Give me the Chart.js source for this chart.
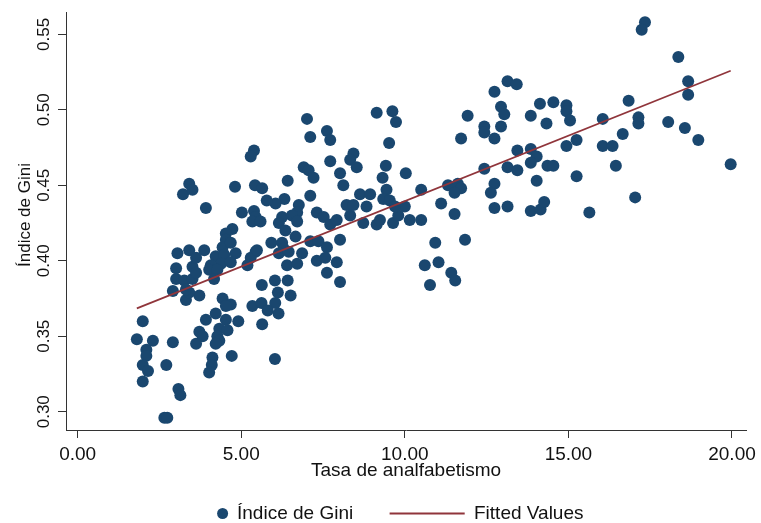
<!DOCTYPE html>
<html>
<head>
<meta charset="utf-8">
<script src="https://cdn.jsdelivr.net/npm/chart.js@4"></script>
<style>
  html, body { margin: 0; padding: 0; background: #fff; }
</style>
</head>
<body>
<canvas id="chart" width="761" height="523"></canvas>
<script>
// Tasa de analfabetismo (x) and Índice de Gini (y), one entry per unit
const tasa = [
  1.99, 1.81, 2.30, 2.91, 2.10, 2.10, 1.99, 2.15, 2.71, 1.99, 3.08, 3.14, 2.65, 2.74, 3.01, 3.01, 2.91,
  3.31, 3.72, 3.41, 4.43, 4.68, 4.53, 4.22, 3.92, 4.53, 4.91, 4.33, 4.58, 4.27, 3.72, 3.82, 3.62, 4.33, 4.22, 4.12, 4.10, 4.71, 5.34, 4.02,
  5.63, 6.03, 6.42, 6.12, 6.51, 5.62, 6.04, 5.81, 6.14, 5.64, 6.03, 8.02, 10.77,
  5.39, 5.29, 3.41, 3.22, 3.51, 4.81, 5.42, 3.92, 5.02, 5.39, 5.44, 5.34, 5.59, 4.73, 4.53, 4.53, 4.43, 4.68,
  3.41, 3.87, 3.05, 4.22, 4.48, 4.83, 4.38, 4.68, 4.07, 4.02, 4.27, 3.51, 3.62, 5.44, 5.29, 5.19, 3.26, 3.51,
  3.31, 3.62, 4.17, 5.48, 5.92, 6.25,
  7.01, 7.11, 7.62, 7.72, 9.14, 9.62, 9.73, 9.52, 8.43, 8.33, 8.53, 7.72, 6.91, 7.06, 7.21, 8.02, 9.42, 9.32,
  10.03, 6.42, 8.12, 5.64, 7.11, 6.32, 6.05, 5.78, 8.63, 8.94, 9.44, 9.34, 9.54, 10.50, 8.22, 8.43, 8.83,
  6.76, 6.71, 6.25, 6.55, 6.15, 6.35, 6.71, 7.31, 7.52, 7.72, 7.92, 8.33, 8.73, 9.14, 9.24, 9.64, 9.80,
  10.00, 9.70, 10.15, 10.50, 6.66, 6.30, 6.15, 6.45, 7.11, 7.36, 7.62, 8.02, 6.86, 7.31, 7.57, 7.92, 6.40,
  6.71, 7.62, 10.61,
  13.14, 13.42, 12.74, 12.94, 13.04, 14.13, 14.54, 14.94, 14.94, 15.05, 11.92, 12.43, 12.43, 12.94, 13.85,
  14.33, 11.72, 12.74, 13.44, 13.85, 14.03, 13.85, 14.94, 15.25, 13.14, 13.44, 12.43, 14.36, 14.54, 15.25,
  14.03, 11.32, 11.62, 11.72, 11.52, 12.74, 12.63, 11.11, 11.52, 12.74, 13.14, 13.85, 14.15, 14.26, 10.93,
  11.84, 11.03, 11.42, 11.54,
  17.34, 17.24, 18.36, 18.66, 18.66, 16.84, 16.05, 17.14, 17.14, 18.05, 18.56, 18.97, 16.66, 16.05, 16.35,
  16.45, 19.96, 17.04, 15.64
];
const gini = [
  0.360, 0.348, 0.347, 0.346, 0.341, 0.337, 0.331, 0.327, 0.331, 0.320, 0.315, 0.311, 0.296, 0.296, 0.395, 0.388, 0.380,
  0.374, 0.377, 0.379, 0.375, 0.371, 0.370, 0.365, 0.361, 0.361, 0.360, 0.355, 0.354, 0.350, 0.353, 0.350, 0.345, 0.347, 0.345, 0.336, 0.331, 0.337, 0.370, 0.326,
  0.384, 0.387, 0.387, 0.379, 0.377, 0.372, 0.372, 0.367, 0.365, 0.358, 0.335, 0.386, 0.384,
  0.473, 0.469, 0.451, 0.444, 0.447, 0.449, 0.450, 0.435, 0.432, 0.433, 0.429, 0.426, 0.426, 0.421, 0.418, 0.414, 0.409, 0.412,
  0.407, 0.407, 0.405, 0.403, 0.404, 0.405, 0.398, 0.399, 0.397, 0.394, 0.394, 0.396, 0.402, 0.406, 0.402, 0.397, 0.387, 0.388,
  0.381, 0.392, 0.388, 0.407, 0.412, 0.412,
  0.494, 0.482, 0.486, 0.480, 0.498, 0.499, 0.492, 0.478, 0.471, 0.467, 0.462, 0.466, 0.462, 0.460, 0.455, 0.458, 0.463, 0.455,
  0.458, 0.453, 0.450, 0.448, 0.443, 0.441, 0.438, 0.440, 0.444, 0.444, 0.447, 0.441, 0.440, 0.447, 0.437, 0.437, 0.436,
  0.437, 0.432, 0.429, 0.430, 0.425, 0.420, 0.426, 0.432, 0.429, 0.424, 0.427, 0.430, 0.425, 0.424, 0.427, 0.425, 0.430,
  0.436, 0.436, 0.427, 0.427, 0.416, 0.408, 0.405, 0.406, 0.413, 0.413, 0.409, 0.414, 0.405, 0.400, 0.402, 0.399, 0.397,
  0.398, 0.392, 0.397,
  0.519, 0.517, 0.512, 0.502, 0.497, 0.504, 0.505, 0.503, 0.499, 0.493, 0.496, 0.489, 0.485, 0.489, 0.496,
  0.491, 0.481, 0.481, 0.473, 0.474, 0.469, 0.465, 0.476, 0.480, 0.462, 0.460, 0.461, 0.463, 0.463, 0.456,
  0.453, 0.450, 0.451, 0.448, 0.445, 0.451, 0.445, 0.438, 0.431, 0.435, 0.436, 0.433, 0.434, 0.439, 0.412,
  0.414, 0.399, 0.392, 0.387,
  0.558, 0.553, 0.535, 0.519, 0.510, 0.506, 0.494, 0.495, 0.491, 0.492, 0.488, 0.480, 0.484, 0.476, 0.476,
  0.463, 0.464, 0.442, 0.432
];

// Fitted values (linear fit) at the ends of the data range
const fitX = [1.81, 19.96];
const fitY = [0.3685, 0.5259];

const xTicks = [0, 5, 10, 15, 20];
const yTicks = [0.30, 0.35, 0.40, 0.45, 0.50, 0.55];

const FONT = "'Liberation Sans', Arial, Helvetica, sans-serif";
const NAVY = '#1a476f';
const MAROON = '#90353b';
const AXIS = '#333333';

// Y tick labels, y title and the legend are drawn here (Stata style: vertical y labels)
const extras = {
  id: 'extras',
  afterDraw(chart) {
    const ctx = chart.ctx;
    const ys = chart.scales.y;
    ctx.save();
    ctx.fillStyle = '#111';
    ctx.textAlign = 'center';
    ctx.textBaseline = 'middle';
    ctx.font = `17px ${FONT}`;
    yTicks.forEach(v => {
      ctx.save();
      ctx.translate(44, ys.getPixelForValue(v));
      ctx.rotate(-Math.PI / 2);
      ctx.fillText(v.toFixed(2), 0, 0);
      ctx.restore();
    });
    // y axis title
    ctx.font = `17px ${FONT}`;
    ctx.save();
    ctx.translate(25, 215);
    ctx.rotate(-Math.PI / 2);
    ctx.fillText('Índice de Gini', 0, 0);
    ctx.restore();

    // legend
    const ly = 513.5;
    const dsPts = chart.data.datasets[1];
    const dsFit = chart.data.datasets[0];
    ctx.fillStyle = dsPts.backgroundColor;
    ctx.beginPath();
    ctx.arc(222.6, ly, 5.5, 0, Math.PI * 2);
    ctx.fill();
    ctx.strokeStyle = dsFit.borderColor;
    ctx.lineWidth = dsFit.borderWidth;
    ctx.beginPath();
    ctx.moveTo(389.6, ly);
    ctx.lineTo(464.7, ly);
    ctx.stroke();
    ctx.fillStyle = '#111';
    ctx.textAlign = 'left';
    ctx.font = `19px ${FONT}`;
    ctx.fillText(dsPts.label, 237, ly);
    ctx.fillText(dsFit.label, 474, ly);
    ctx.restore();
  }
};

new Chart(document.getElementById('chart'), {
  type: 'scatter',
  data: {
    datasets: [
      {
        type: 'line',
        label: 'Fitted Values',
        data: fitX.map((x, i) => ({ x: x, y: fitY[i] })),
        borderColor: MAROON,
        borderWidth: 1.8,
        pointRadius: 0,
        fill: false,
        order: 0
      },
      {
        label: 'Índice de Gini',
        data: tasa.map((x, i) => ({ x: x, y: gini[i] })),
        backgroundColor: NAVY,
        borderWidth: 0,
        pointRadius: 6,
        pointHoverRadius: 6,
        order: 1
      }
    ]
  },
  options: {
    responsive: false,
    animation: false,
    devicePixelRatio: 1,
    layout: { padding: { top: 12, right: 11, left: 0, bottom: 0 } },
    plugins: { legend: { display: false }, tooltip: { enabled: false } },
    scales: {
      x: {
        type: 'linear',
        min: -0.356,
        max: 20.43,
        afterBuildTicks: s => { s.ticks = xTicks.map(v => ({ value: v })); },
        afterFit: s => { s.height = 93; },
        ticks: {
          callback: v => Number(v).toFixed(2),
          color: '#111',
          font: { family: FONT, size: 19 },
          padding: 5,
          maxRotation: 0,
          autoSkip: false
        },
        grid: { drawOnChartArea: false, drawTicks: true, tickLength: 8, color: AXIS },
        border: { color: AXIS, width: 1 },
        title: {
          display: true,
          text: 'Tasa de analfabetismo',
          color: '#111',
          font: { family: FONT, size: 19 },
          padding: { top: 0, bottom: 41 }
        }
      },
      y: {
        type: 'linear',
        min: 0.2879,
        max: 0.5648,
        afterBuildTicks: s => { s.ticks = yTicks.map(v => ({ value: v })); },
        afterFit: s => { s.width = 66; },
        ticks: { display: false },
        grid: { drawOnChartArea: false, drawTicks: true, tickLength: 8, color: AXIS },
        border: { color: AXIS, width: 1 }
      }
    }
  },
  plugins: [extras]
});
</script>
</body>
</html>
